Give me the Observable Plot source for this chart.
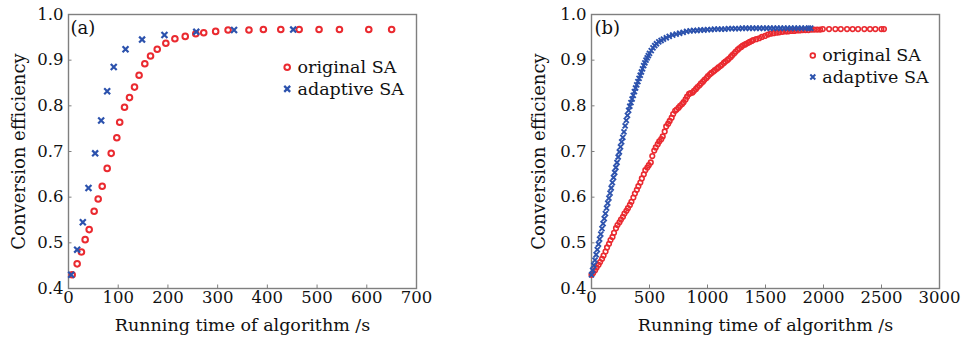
<!DOCTYPE html>
<html><head><meta charset="utf-8">
<script src="https://cdn.jsdelivr.net/npm/d3@7"></script>
<script src="https://cdn.jsdelivr.net/npm/@observablehq/plot@0.6"></script>
<style>
body{margin:0;background:#fff;}
#wrap{position:relative;width:965px;height:337px;overflow:hidden;}
#wrap svg{position:absolute;top:0;}
</style></head><body><div id="wrap"></div>
<script>
// ---------- data ----------
const seriesNames = ["original SA", "adaptive SA"];
const panelLabels = ["(a)", "(b)"];
const xLabel = "Running time of algorithm /s";
const yLabel = "Conversion efficiency";
const aXTicks = [0, 100, 200, 300, 400, 500, 600, 700];
const bXTicks = [0, 500, 1000, 1500, 2000, 2500, 3000];
const yTicks = [0.4, 0.5, 0.6, 0.7, 0.8, 0.9, 1.0];

// panel (a)
const aOrigTime = [7.4, 17.4, 26, 33.5, 41.6, 51.6, 59.7, 67.8, 77.8, 85.9, 97.2, 103, 112.7, 122.7, 132.8, 142, 153.5, 165, 178.5, 195.8, 214, 234.8, 256, 272, 296, 321, 363, 392, 427, 464, 504, 545, 604, 650];
const aOrigEff = [0.430, 0.454, 0.480, 0.507, 0.529, 0.569, 0.596, 0.624, 0.663, 0.696, 0.730, 0.764, 0.797, 0.818, 0.841, 0.867, 0.892, 0.909, 0.924, 0.937, 0.947, 0.952, 0.958, 0.960, 0.963, 0.966, 0.966, 0.967, 0.967, 0.967, 0.967, 0.967, 0.967, 0.967];
const aAdaptTime = [5.4, 17.4, 28.8, 40.2, 53.6, 65.7, 77.8, 91, 114.7, 148, 193, 257, 333, 452];
const aAdaptEff = [0.430, 0.485, 0.545, 0.620, 0.696, 0.768, 0.832, 0.885, 0.924, 0.945, 0.955, 0.962, 0.966, 0.967];

// panel (b)
const bOrigTime = [0, 14, 31, 44, 61, 74, 91, 104, 121, 134, 151, 164, 181, 194, 211, 224, 241, 254, 271, 284, 301, 314, 331, 344, 361, 374, 391, 404, 421, 434, 451, 464, 481, 494, 511, 524, 541, 554, 571, 584, 601, 614, 631, 644, 661, 674, 691, 704, 721, 734, 751, 764, 781, 794, 811, 824, 841, 854, 871, 884, 901, 914, 931, 944, 961, 974, 991, 1004, 1021, 1034, 1051, 1064, 1081, 1094, 1111, 1124, 1141, 1154, 1171, 1184, 1201, 1214, 1231, 1244, 1261, 1274, 1291, 1304, 1321, 1334, 1351, 1364, 1381, 1394,
  1420, 1446, 1469, 1495, 1521, 1544, 1570, 1596, 1619, 1645, 1671, 1694, 1720, 1746, 1769, 1795, 1821, 1844, 1870, 1896, 1919, 1945, 1971, 1994,
  2048, 2102, 2149, 2203, 2251, 2298, 2352, 2401, 2447, 2499, 2521];
const bOrigEff = [0.430, 0.434, 0.440, 0.446, 0.452, 0.458, 0.465, 0.472, 0.481, 0.490, 0.498, 0.506, 0.513, 0.522, 0.532, 0.539, 0.545, 0.551, 0.557, 0.564, 0.570, 0.576, 0.583, 0.590, 0.599, 0.608, 0.616, 0.624, 0.632, 0.641, 0.650, 0.659, 0.665, 0.670, 0.676, 0.690, 0.702, 0.709, 0.716, 0.722, 0.727, 0.733, 0.744, 0.755, 0.761, 0.767, 0.774, 0.782, 0.789, 0.792, 0.796, 0.800, 0.804, 0.808, 0.814, 0.820, 0.826, 0.828, 0.829, 0.833, 0.837, 0.841, 0.845, 0.849, 0.853, 0.857, 0.861, 0.865, 0.869, 0.872, 0.875, 0.878, 0.881, 0.884, 0.887, 0.890, 0.894, 0.897, 0.900, 0.903, 0.907, 0.911, 0.915, 0.919, 0.923, 0.926, 0.929, 0.932, 0.934, 0.936, 0.938, 0.940, 0.942, 0.944,
  0.946, 0.948, 0.951, 0.953, 0.956, 0.958, 0.959, 0.960, 0.961, 0.962, 0.963, 0.963, 0.964, 0.964, 0.965, 0.965, 0.966, 0.966, 0.966, 0.967, 0.967, 0.967, 0.967, 0.968,
  0.968, 0.968, 0.968, 0.968, 0.968, 0.968, 0.968, 0.968, 0.968, 0.968, 0.968];
const bAdaptTime = [0, 10, 20, 30, 40, 50, 60, 70, 80, 90, 100, 110, 120, 130, 140, 150, 160, 170, 180, 190, 200, 210, 220, 230, 240, 250, 260, 270, 280, 290, 300, 310, 320, 330, 340, 350, 360, 370, 380, 390, 400, 410, 420, 430, 440, 450, 460, 470, 480, 490, 500,
  515, 530, 545, 560, 580, 600, 620, 645, 670, 700, 730, 760, 790, 820, 850, 880, 910, 940, 970, 1000, 1030, 1060, 1090, 1120, 1150, 1180, 1210, 1240, 1270, 1300, 1330, 1360, 1390, 1420, 1450, 1480, 1510, 1540, 1570, 1600, 1630, 1660, 1690, 1720, 1750, 1780, 1810, 1840, 1870, 1890];
const bAdaptEff = [0.430, 0.440, 0.451, 0.462, 0.474, 0.485, 0.497, 0.508, 0.519, 0.531, 0.542, 0.553, 0.564, 0.576, 0.587, 0.598, 0.609, 0.620, 0.632, 0.643, 0.654, 0.665, 0.676, 0.688, 0.699, 0.710, 0.721, 0.731, 0.743, 0.756, 0.768, 0.779, 0.790, 0.799, 0.807, 0.815, 0.823, 0.831, 0.839, 0.846, 0.853, 0.860, 0.867, 0.874, 0.881, 0.888, 0.894, 0.900, 0.905, 0.910, 0.915,
  0.921, 0.927, 0.932, 0.936, 0.940, 0.943, 0.946, 0.949, 0.952, 0.955, 0.957, 0.959, 0.961, 0.963, 0.964, 0.965, 0.965, 0.966, 0.966, 0.967, 0.967, 0.968, 0.968, 0.968, 0.968, 0.969, 0.969, 0.969, 0.969, 0.970, 0.970, 0.970, 0.970, 0.970, 0.970, 0.970, 0.970, 0.970, 0.970, 0.970, 0.970, 0.970, 0.970, 0.970, 0.970, 0.970, 0.970, 0.970, 0.970, 0.970];

// ---------- style ----------
const RED = "#ea2a30";
const BLUE = "#2c52ad";
const FRAME = "#7f7f7f";
const FONT = "DejaVu Serif";

function panel(cfg) {
  const W = cfg.width, H = 337;
  const mt = 14, mb = 49;
  const pw = W - cfg.ml - cfg.mr, ph = H - mt - mb;
  const svg = Plot.plot({
    width: W, height: H,
    marginLeft: cfg.ml, marginRight: cfg.mr, marginTop: mt, marginBottom: mb,
    style: {fontFamily: FONT, fontSize: "16px", color: "#111", background: "transparent", overflow: "visible"},
    x: {domain: cfg.xDomain},
    y: {domain: [0.4, 1.0]},
    marks: [
      Plot.axisX(cfg.xTicks, {tickSize: 0, tickPadding: 3, fontSize: 16.5, tickFormat: d => String(d), label: null}),
      Plot.axisY(yTicks, {tickSize: 0, tickPadding: 5, fontSize: 16.5, tickFormat: d3.format(".1f"), label: null}),
      Plot.ruleX(cfg.xTicks, {x: d => d, insetTop: ph - 3.5, stroke: FRAME, strokeWidth: 1}),
      Plot.ruleY(yTicks, {y: d => d, insetRight: pw - 3.5, stroke: FRAME, strokeWidth: 1}),
      Plot.frame({stroke: FRAME, strokeWidth: 1.4}),
      Plot.dot(cfg.origTime, {x: cfg.origTime, y: cfg.origEff, symbol: "circle", r: cfg.rO, fill: "none", stroke: RED, strokeWidth: cfg.swO}),
      Plot.dot(cfg.adaptTime, {x: cfg.adaptTime, y: cfg.adaptEff, symbol: "times", r: cfg.rA, fill: "none", stroke: BLUE, strokeWidth: cfg.swA}),
      // panel label
      Plot.text([cfg.tag], {frameAnchor: "top-left", dx: cfg.tagDx, dy: 14, textAnchor: "start", lineAnchor: "middle", fontSize: 18, fill: "#111"}),
      // legend
      Plot.dot([0], {frameAnchor: "top-left", dx: cfg.legDot, dy: cfg.leg1, symbol: "circle", r: cfg.rL, fill: "none", stroke: RED, strokeWidth: cfg.swL}),
      Plot.dot([0], {frameAnchor: "top-left", dx: cfg.legDot, dy: cfg.leg2, symbol: "times", r: cfg.rL, fill: "none", stroke: BLUE, strokeWidth: cfg.swL + 0.3}),
      Plot.text([seriesNames[0]], {frameAnchor: "top-left", dx: cfg.legText, dy: cfg.leg1, textAnchor: "start", lineAnchor: "middle", fontSize: 17.5, fill: "#111"}),
      Plot.text([seriesNames[1]], {frameAnchor: "top-left", dx: cfg.legText, dy: cfg.leg2, textAnchor: "start", lineAnchor: "middle", fontSize: 17.5, fill: "#111"}),
      // axis labels
      Plot.text([xLabel], {frameAnchor: "bottom", dy: 42, textAnchor: "middle", lineAnchor: "bottom", fontSize: 17.5, fill: "#111"}),
      Plot.text([yLabel], {frameAnchor: "left", dx: cfg.yLabDx, rotate: -90, textAnchor: "middle", lineAnchor: "middle", fontSize: 18, fill: "#111"})
    ]
  });
  svg.style.left = cfg.left + "px";
  return svg;
}

const wrap = document.getElementById("wrap");
wrap.appendChild(panel({
  left: 0, width: 480, ml: 68, mr: 64, xDomain: [0, 700], xTicks: aXTicks,
  origTime: aOrigTime, origEff: aOrigEff, adaptTime: aAdaptTime, adaptEff: aAdaptEff,
  rO: 2.8, swO: 2, rA: 2.8, swA: 2.2, rL: 2.8, swL: 2, tag: panelLabels[0], tagDx: 2,
  legDot: 218.7, legText: 229, leg1: 52.7, leg2: 74.4, yLabDx: -49
}));
wrap.appendChild(panel({
  left: 480, width: 485, ml: 111, mr: 26, xDomain: [0, 3000], xTicks: bXTicks,
  origTime: bOrigTime, origEff: bOrigEff, adaptTime: bAdaptTime, adaptEff: bAdaptEff,
  rO: 2.3, swO: 1.6, rA: 2.4, swA: 1.9, rL: 2.4, swL: 1.7, tag: panelLabels[1], tagDx: 3,
  legDot: 221.3, legText: 230.7, leg1: 41, leg2: 62.5, yLabDx: -52
}));
</script>
</body></html>
